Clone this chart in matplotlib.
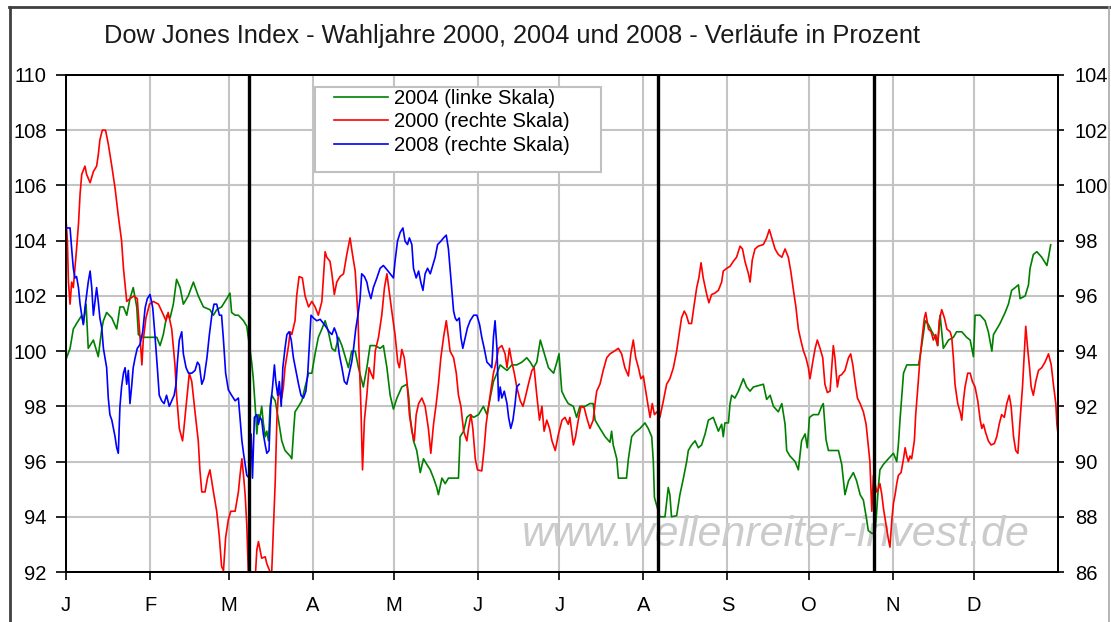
import numpy as np
import matplotlib
matplotlib.use('Agg')
import matplotlib.pyplot as plt
from matplotlib.lines import Line2D
from matplotlib.patches import Rectangle

plt.rcParams['font.family'] = ['Liberation Sans', 'DejaVu Sans']

# month starts (day of year, leap years) and labels
month_days = [0, 31, 60, 91, 121, 152, 182, 213, 244, 274, 305, 335]
month_labels = ['J', 'F', 'M', 'A', 'M', 'J', 'J', 'A', 'S', 'O', 'N', 'D']
election_days = [67.5, 218.5, 298.2]

# 2004, left scale  (day of year, percent)
dj2004 = np.array([
    (0, 99.7), (1.5, 100.1), (2.7, 100.8), (3.9, 101.0), (5.2, 101.2), (5.8, 101.3), (6.4, 101.0),
    (7.4, 101.7), (8.2, 100.1), (10.1, 100.4), (11.3, 100.0), (11.9, 99.8), (13.2, 100.8), (13.8, 101.1),
    (15.0, 101.4), (16.9, 101.2), (18.7, 100.8), (19.9, 101.6), (21.2, 101.6), (22.4, 101.3), (23.6, 101.9),
    (24.8, 102.3), (26.1, 101.6), (26.7, 100.6), (27.9, 100.5), (29.8, 100.5), (31.6, 100.5), (33.5, 100.5),
    (34.7, 100.2), (35.9, 100.6), (37.2, 101.3), (38.4, 101.2), (39.6, 101.7), (40.8, 102.6), (42.1, 102.3),
    (43.3, 101.7), (45.1, 102.0), (47.0, 102.5), (48.8, 102.0), (50.7, 101.6), (53.1, 101.5), (54.4, 101.3),
    (55.6, 101.5), (57.4, 101.6), (59.3, 101.9), (60.5, 102.1), (61.1, 101.4), (62.4, 101.3), (63.6, 101.3),
    (65.5, 101.1), (66.7, 100.9), (68.5, 99.6), (69.1, 99.0), (69.8, 98.0), (70.4, 97.0), (71.0, 97.7),
    (71.6, 97.6), (72.2, 98.0), (72.8, 97.4), (73.5, 96.9), (74.1, 97.1), (74.7, 96.75), (75.3, 98.0),
    (75.9, 98.4), (77.2, 98.2), (78.4, 97.5), (79.6, 96.75), (80.8, 96.4), (82.7, 96.2), (83.3, 96.1),
    (83.9, 97.0), (84.5, 97.8), (85.8, 98.0), (87.0, 98.2), (88.2, 98.7), (89.5, 99.2), (90.7, 99.2),
    (91.9, 99.9), (93.1, 100.5), (94.4, 100.8), (95.6, 101.1), (96.8, 100.7), (98.1, 100.1), (99.3, 100.0),
    (100.5, 100.5), (101.8, 100.2), (103.0, 99.8), (104.2, 99.4), (105.4, 100.0), (106.7, 100.0),
    (107.9, 99.4), (109.7, 98.7), (111.0, 99.4), (112.2, 100.2), (114.0, 100.2), (115.9, 100.1),
    (117.1, 100.2), (118.4, 99.4), (119.6, 98.4), (120.8, 97.9), (122.1, 98.3), (123.9, 98.7),
    (125.8, 98.8), (126.4, 98.4), (127.0, 97.6), (128.2, 96.75), (129.4, 96.4), (130.7, 95.6),
    (131.9, 96.1), (133.1, 95.9), (134.4, 95.7), (135.6, 95.4), (136.8, 95.06), (137.4, 94.8),
    (138.7, 95.4), (139.9, 95.2), (141.1, 95.4), (143.0, 95.4), (144.8, 95.4), (145.4, 96.9),
    (146.7, 97.1), (147.9, 97.6), (149.1, 97.7), (150.4, 97.6), (152.2, 97.7), (154.0, 98.0),
    (155.3, 97.7), (156.5, 98.3), (157.7, 98.9), (159.0, 99.2), (160.2, 99.5), (161.4, 99.4),
    (162.7, 99.3), (164.5, 99.5), (166.3, 99.5), (168.2, 99.6), (170.0, 99.76), (171.3, 99.6),
    (172.5, 99.4), (173.7, 99.6), (175.0, 100.4), (176.2, 100.0), (178.0, 99.4), (179.9, 99.2),
    (181.1, 99.6), (181.9, 99.9), (182.9, 98.55), (184.1, 98.3), (185.3, 98.1), (187.2, 98.0),
    (188.4, 97.6), (189.6, 98.0), (191.5, 98.0), (193.3, 98.1), (194.5, 98.1), (195.2, 97.5),
    (197.0, 97.2), (198.9, 96.9), (200.7, 96.7), (201.3, 97.1), (201.9, 96.6), (203.2, 96.1),
    (203.8, 95.4), (205.0, 95.4), (206.8, 95.4), (207.5, 96.1), (208.7, 96.9), (209.9, 97.05),
    (211.8, 97.2), (213.6, 97.4), (214.8, 97.2), (216.1, 96.9), (216.7, 96.0), (217.1, 94.7),
    (219.1, 94.0), (221.0, 94.0), (222.2, 95.06), (222.8, 94.8), (223.4, 94.0), (225.3, 94.04),
    (226.5, 94.8), (227.8, 95.4), (229.0, 96.0), (229.6, 96.4), (230.8, 96.6), (232.1, 96.75),
    (233.3, 96.5), (234.5, 96.6), (235.8, 97.0), (237.0, 97.5), (238.8, 97.6), (240.7, 97.1),
    (241.9, 97.35), (242.5, 96.9), (243.1, 97.4), (244.4, 97.4), (245.0, 98.1), (245.6, 98.4),
    (246.8, 98.3), (248.1, 98.55), (249.9, 99.0), (251.1, 98.7), (252.4, 98.55), (253.6, 98.7),
    (257.3, 98.8), (258.5, 98.25), (259.8, 98.4), (261.0, 98.0), (262.8, 97.8), (264.1, 98.1),
    (265.3, 97.35), (265.9, 96.4), (267.1, 96.2), (269.0, 96.0), (270.2, 95.7), (271.4, 96.75),
    (272.7, 97.0), (273.5, 96.5), (274.3, 97.6), (275.7, 97.7), (277.6, 97.7), (278.8, 98.0),
    (279.4, 98.1), (280.4, 96.8), (281.3, 96.4), (283.1, 96.4), (285.0, 96.4), (286.2, 95.9),
    (287.4, 94.8), (288.7, 95.3), (290.5, 95.6), (291.7, 95.3), (293.0, 94.8), (294.2, 94.6),
    (295.4, 93.9), (296.0, 93.5), (297.3, 93.4), (298.5, 93.4), (299.1, 94.2), (299.7, 95.06),
    (300.3, 95.7), (301.6, 95.9), (303.4, 96.1), (305.3, 96.3), (306.5, 96.0), (307.1, 96.6),
    (307.7, 97.5), (308.3, 98.3), (309.0, 99.2), (310.2, 99.5), (314.5, 99.5), (315.1, 99.8),
    (316.3, 100.6), (317.0, 101.1), (318.2, 100.96), (319.5, 100.7), (320.7, 100.5), (321.6, 100.2),
    (322.5, 101.3), (323.7, 100.1), (325.6, 100.4), (327.4, 100.5), (328.6, 100.7), (330.5, 100.7),
    (332.3, 100.5), (333.6, 100.4), (334.8, 99.8), (335.4, 101.3), (337.3, 101.3), (339.1, 101.1),
    (340.3, 100.7), (341.6, 100.0), (342.2, 100.6), (343.4, 100.8), (344.6, 101.0), (346.5, 101.4),
    (347.7, 101.7), (348.9, 102.2), (350.2, 102.3), (351.4, 102.4), (352.0, 101.9), (353.9, 102.0),
    (355.1, 102.4), (355.7, 103.0), (356.9, 103.5), (358.2, 103.6), (360.0, 103.4), (361.9, 103.1),
    (362.5, 103.4), (363.3, 103.85),
])

# 2000, right scale
dj2000 = np.array([
    (0, 98.8), (0.5, 98.0), (0.9, 96.5), (1.5, 95.7), (2.1, 96.5), (2.7, 96.3), (3.3, 97.0), (3.9, 97.7),
    (4.6, 98.6), (5.2, 99.7), (5.8, 100.4), (7.0, 100.7), (7.6, 100.4), (8.9, 100.1), (10.1, 100.5),
    (11.3, 100.7), (11.9, 101.1), (12.5, 101.65), (13.4, 102.0), (14.6, 102.0), (15.6, 101.5),
    (16.9, 100.7), (18.1, 99.9), (19.3, 98.9), (20.5, 98.0), (21.2, 97.0), (22.4, 95.8), (23.6, 95.9),
    (25.1, 96.0), (26.3, 95.9), (27.1, 94.8), (27.6, 94.1), (28.0, 93.5), (28.5, 94.4), (29.5, 95.2),
    (30.8, 95.7), (32.2, 95.8), (34.1, 95.7), (35.3, 95.45), (36.9, 95.1), (37.7, 95.4), (39.0, 94.8),
    (40.2, 93.5), (40.8, 92.4), (41.8, 91.2), (43.0, 90.75), (43.5, 91.2), (44.5, 92.2), (45.5, 93.2),
    (46.4, 92.9), (47.6, 91.8), (48.8, 90.75), (49.4, 89.7), (50.1, 88.9), (51.3, 88.9), (52.2, 89.4),
    (53.1, 89.7), (54.4, 88.9), (55.6, 88.2), (56.6, 87.25), (57.4, 86.2), (58.1, 86.05), (58.9, 87.25),
    (59.9, 87.9), (60.8, 88.2), (62.4, 88.2), (63.6, 88.9), (64.2, 89.5), (64.9, 90.1), (65.5, 89.5),
    (66.1, 88.8), (66.7, 87.7), (67.6, 85.0), (69.5, 85.2), (70.4, 86.8), (71.0, 87.1), (71.6, 86.8),
    (72.2, 86.5), (73.5, 86.55), (74.1, 86.3), (75.3, 86.0), (75.9, 86.0), (76.5, 87.5), (77.2, 89.3),
    (77.8, 91.5), (78.4, 92.55), (79.6, 92.3), (80.2, 92.7), (80.8, 93.4), (82.1, 94.2), (82.7, 94.7),
    (83.3, 94.6), (84.5, 95.1), (85.1, 96.0), (86.0, 96.7), (87.2, 96.65), (88.2, 96.0), (89.5, 95.6),
    (90.7, 95.8), (91.9, 95.6), (93.1, 95.3), (94.4, 95.8), (95.6, 97.6), (96.2, 97.4), (97.4, 97.25),
    (98.1, 96.8), (99.0, 96.05), (99.9, 96.5), (101.1, 96.7), (102.4, 96.8), (103.6, 97.5), (104.8, 98.1),
    (105.7, 97.5), (106.7, 96.9), (107.7, 95.3), (108.1, 94.0), (108.8, 92.0), (109.4, 89.7), (110.1, 91.5),
    (111.0, 92.4), (111.8, 93.4), (112.5, 93.2), (113.4, 93.0), (114.1, 94.0), (115.3, 94.5), (116.5, 95.3),
    (117.5, 96.3), (118.4, 96.8), (119.2, 96.2), (120.2, 95.45), (121.4, 94.6), (122.4, 93.6), (123.0, 93.4),
    (123.9, 94.06), (124.8, 93.76), (125.8, 92.9), (126.7, 91.7), (127.6, 91.1), (128.5, 90.75),
    (129.2, 91.7), (130.1, 92.1), (131.3, 92.3), (132.5, 92.0), (133.7, 91.2), (134.6, 90.3), (135.6, 91.35),
    (136.6, 92.1), (137.4, 92.8), (138.3, 93.76), (139.3, 94.5), (140.3, 95.1), (141.1, 94.5), (141.7, 94.0),
    (143.0, 93.76), (144.0, 93.2), (144.8, 92.4), (145.7, 92.0), (146.7, 91.1), (147.9, 90.75), (148.5, 91.2),
    (149.4, 91.7), (150.1, 91.2), (151.0, 90.1), (151.8, 89.7), (153.4, 89.66), (154.3, 90.5), (155.0, 91.35),
    (155.9, 92.0), (156.7, 92.55), (157.7, 93.2), (158.7, 93.6), (159.6, 94.1), (160.8, 94.2), (162.0, 93.9),
    (162.7, 93.4), (163.6, 94.1), (164.5, 93.6), (165.4, 93.2), (166.3, 92.7), (167.6, 92.2), (168.6, 92.0),
    (169.4, 92.3), (170.6, 92.8), (171.9, 93.3), (172.7, 93.4), (173.7, 92.4), (174.7, 91.5), (175.6, 92.0),
    (176.4, 91.1), (177.4, 91.5), (178.4, 91.2), (179.3, 90.75), (180.5, 90.4), (181.7, 91.0), (183.0, 91.5),
    (184.1, 91.6), (185.3, 91.35), (185.9, 91.6), (187.2, 90.6), (188.0, 90.9), (189.0, 91.5), (190.0, 92.0),
    (191.2, 91.95), (192.1, 91.6), (193.3, 91.2), (194.5, 91.5), (195.2, 92.1), (195.8, 92.55), (197.0, 92.8),
    (198.2, 93.3), (199.5, 93.76), (200.7, 93.9), (202.3, 94.0), (203.8, 94.1), (205.0, 93.9), (206.2, 93.4),
    (207.5, 93.1), (208.4, 93.9), (209.3, 94.4), (210.2, 93.76), (211.2, 93.4), (212.1, 93.0), (213.0, 93.1),
    (213.9, 92.55), (214.8, 92.0), (215.5, 91.6), (216.3, 92.1), (217.1, 91.7), (218.0, 91.8), (219.1, 91.6),
    (220.4, 92.2), (221.6, 92.8), (222.8, 93.0), (224.1, 93.4), (225.3, 94.0), (226.2, 94.6), (227.1, 95.2),
    (228.1, 95.45), (228.9, 95.3), (229.8, 95.0), (230.8, 95.0), (231.8, 95.7), (232.7, 96.3), (233.5, 96.65),
    (234.3, 97.2), (235.1, 96.65), (236.4, 96.05), (237.2, 95.75), (238.2, 96.05), (239.4, 96.1),
    (240.7, 96.2), (241.9, 96.5), (242.5, 96.9), (243.8, 97.0), (245.0, 97.07), (246.2, 97.25), (247.4, 97.4),
    (248.7, 97.8), (249.6, 97.7), (250.5, 97.25), (251.8, 96.8), (252.4, 96.5), (253.2, 97.3), (254.2, 97.7),
    (255.4, 97.8), (257.3, 97.86), (258.5, 98.1), (259.5, 98.4), (260.4, 98.1), (261.6, 97.7), (262.8, 97.5),
    (264.1, 97.4), (265.3, 97.7), (266.5, 97.4), (267.4, 96.9), (268.4, 96.2), (269.3, 95.6), (270.2, 94.8),
    (271.1, 94.4), (272.1, 94.0), (273.0, 93.76), (273.9, 93.4), (274.5, 93.0), (275.5, 93.6), (276.4, 94.1),
    (277.2, 94.4), (278.2, 94.1), (279.2, 93.76), (280.0, 92.8), (280.9, 92.5), (281.9, 92.55), (282.5, 93.4),
    (283.1, 94.2), (283.7, 93.76), (284.6, 92.7), (285.3, 93.1), (286.2, 93.15), (287.4, 93.3), (288.7, 93.76),
    (289.5, 93.9), (290.3, 93.5), (291.1, 92.9), (292.0, 92.3), (293.0, 92.1), (294.2, 91.8), (295.2, 91.35),
    (296.0, 90.6), (296.6, 90.0), (297.3, 88.2), (297.9, 89.5), (299.1, 88.9), (299.7, 89.0), (300.3, 89.2),
    (301.0, 88.8), (301.6, 88.3), (302.4, 87.8), (303.4, 87.2), (304.0, 86.9), (304.7, 87.9), (305.3, 88.5),
    (305.9, 88.8), (306.5, 89.2), (307.1, 89.5), (308.1, 89.6), (309.0, 90.1), (309.6, 90.5), (310.2, 90.2),
    (310.8, 90.0), (311.4, 90.2), (312.0, 90.1), (313.0, 90.75), (313.5, 91.7), (314.3, 92.7), (315.1, 93.76),
    (316.0, 94.6), (316.7, 95.2), (317.2, 95.4), (318.2, 94.8), (319.2, 94.7), (320.0, 94.4), (320.9, 94.6),
    (321.6, 94.2), (322.2, 95.1), (323.1, 95.5), (324.1, 95.2), (325.0, 94.8), (326.2, 94.7), (326.8, 94.5),
    (327.4, 93.76), (328.0, 92.8), (329.0, 92.1), (329.9, 91.8), (330.5, 91.5), (331.1, 92.2), (331.7, 92.7),
    (332.7, 93.2), (333.6, 93.2), (334.4, 92.9), (335.4, 92.7), (336.4, 92.2), (337.3, 91.5), (337.9, 91.2),
    (338.5, 91.35), (339.3, 91.05), (340.3, 90.75), (341.3, 90.6), (342.5, 90.65), (343.4, 90.9),
    (344.3, 91.35), (345.2, 91.7), (346.2, 91.6), (347.1, 92.1), (348.0, 92.4), (348.7, 92.0), (349.6, 90.9),
    (350.4, 90.4), (351.2, 90.3), (352.0, 91.5), (352.9, 92.7), (353.6, 94.0), (354.1, 94.9), (354.8, 94.1),
    (355.5, 93.4), (356.1, 92.7), (356.9, 92.4), (357.8, 92.9), (358.8, 93.3), (360.0, 93.4), (361.2, 93.6),
    (362.5, 93.9), (363.5, 93.5), (364.3, 92.8), (365.2, 92.1), (365.6, 91.35), (366.0, 91.0),
])

# 2008, right scale
dj2008 = np.array([
    (0, 98.46), (1.5, 98.46), (2.1, 97.7), (2.7, 97.0), (3.3, 96.65), (3.9, 96.7), (4.6, 96.3), (5.2, 95.7),
    (5.8, 95.3), (6.4, 94.96), (7.0, 95.57), (7.6, 96.05), (8.2, 96.5), (8.9, 96.9), (9.5, 96.3), (10.1, 95.3),
    (10.7, 95.8), (11.3, 96.3), (11.9, 95.8), (12.5, 95.2), (13.2, 94.84), (13.8, 94.1), (15.0, 93.4),
    (15.6, 92.3), (16.2, 91.7), (16.9, 91.5), (17.5, 91.2), (18.1, 90.9), (18.7, 90.5), (19.3, 90.3),
    (19.9, 92.0), (20.5, 92.7), (21.2, 93.2), (21.8, 93.4), (22.4, 92.8), (23.0, 93.3), (23.6, 92.1),
    (24.2, 92.7), (24.8, 93.4), (25.5, 93.76), (26.3, 94.1), (27.3, 94.24), (28.3, 94.7), (29.2, 95.57),
    (30.0, 95.9), (31.0, 96.05), (32.0, 95.57), (32.8, 94.6), (33.7, 93.4), (34.4, 92.4), (35.3, 92.2),
    (36.2, 92.1), (37.1, 92.4), (38.1, 92.0), (39.0, 92.2), (39.9, 92.4), (40.6, 92.8), (41.1, 93.6),
    (41.8, 94.4), (42.7, 94.7), (43.3, 93.9), (44.3, 93.4), (45.2, 93.2), (46.4, 93.2), (47.6, 93.3),
    (48.5, 93.6), (49.2, 93.5), (50.1, 92.8), (50.9, 93.0), (52.0, 93.76), (52.9, 94.6), (53.8, 95.3),
    (54.6, 95.7), (55.6, 95.7), (56.6, 95.3), (57.4, 95.3), (58.1, 94.4), (58.9, 93.2), (59.9, 92.6),
    (61.1, 92.4), (62.4, 92.2), (63.6, 92.3), (64.2, 91.6), (64.9, 90.75), (65.5, 90.3), (66.1, 89.9),
    (66.7, 89.5), (67.6, 89.4), (68.3, 91.0), (68.8, 89.4), (69.5, 91.6), (70.4, 91.7), (71.0, 91.35),
    (71.6, 91.6), (72.2, 91.5), (72.8, 91.0), (73.5, 90.6), (74.1, 90.3), (74.9, 90.4), (75.5, 92.0),
    (76.2, 92.7), (76.9, 93.5), (77.4, 92.9), (78.1, 92.4), (78.7, 92.9), (79.4, 92.0), (80.0, 93.4),
    (80.8, 94.1), (81.5, 94.6), (82.3, 94.7), (83.1, 94.4), (83.9, 93.76), (84.8, 93.3), (85.8, 92.8),
    (86.7, 92.4), (87.6, 92.3), (88.5, 92.55), (89.2, 93.2), (89.7, 94.1), (90.4, 95.3), (91.3, 95.2),
    (92.5, 95.1), (93.8, 95.15), (95.0, 95.0), (96.2, 94.84), (97.1, 94.7), (98.1, 94.6), (99.0, 94.84),
    (99.9, 94.6), (100.8, 93.9), (101.8, 93.4), (102.7, 92.9), (103.6, 92.8), (104.5, 93.2), (105.4, 93.6),
    (106.1, 94.1), (106.9, 94.8), (107.7, 95.3), (108.5, 95.9), (109.1, 96.8), (110.1, 96.7), (111.0, 96.5),
    (111.6, 96.2), (112.5, 95.9), (113.4, 96.3), (114.7, 96.65), (115.9, 97.0), (117.1, 97.1), (118.4, 96.95),
    (119.6, 96.8), (120.8, 96.65), (121.4, 97.25), (122.3, 97.98), (123.3, 98.3), (124.3, 98.46),
    (125.1, 97.98), (126.0, 97.86), (126.7, 98.1), (127.6, 97.86), (128.2, 97.0), (129.2, 96.65),
    (130.1, 96.9), (130.9, 96.5), (131.7, 96.2), (132.5, 96.8), (133.4, 97.0), (134.4, 96.8), (135.3, 97.1),
    (136.2, 97.4), (137.1, 97.86), (138.3, 97.98), (139.3, 98.1), (140.3, 98.2), (141.1, 97.7), (141.7, 97.0),
    (142.4, 96.2), (143.0, 95.45), (143.6, 95.2), (144.2, 95.1), (145.1, 95.2), (145.7, 94.5), (146.4, 94.1),
    (147.3, 94.5), (148.1, 94.84), (149.1, 95.1), (150.4, 95.3), (151.6, 95.3), (152.6, 94.96), (153.4, 94.5),
    (154.3, 94.1), (155.3, 93.6), (156.3, 93.5), (157.1, 93.4), (157.7, 94.5), (158.3, 95.1), (159.0, 94.1),
    (159.6, 92.2), (160.2, 92.7), (160.8, 92.3), (161.7, 92.55), (162.7, 92.1), (163.3, 91.6), (164.1, 91.2),
    (164.9, 91.5), (165.7, 92.1), (166.3, 92.7), (167.2, 92.8),
])

fig = plt.figure(figsize=(11.11, 6.22), dpi=100)
ax = fig.add_axes([66 / 1111, 50 / 622, 992 / 1111, 497 / 622])
ax2 = ax.twinx()

ax.set_axisbelow(True)
ax.grid(True, color='#c4c4c4', linewidth=1.5)

ax.plot(dj2004[:, 0], dj2004[:, 1], color='#008000', lw=1.2, zorder=2)
ax2.plot(dj2000[:, 0], dj2000[:, 1], color='#ff0000', lw=1.2, zorder=2)
ax2.plot(dj2008[:, 0], dj2008[:, 1], color='#0000ff', lw=1.2, zorder=3)
for d in election_days:
    ax2.axvline(d, color='black', lw=2.4, zorder=5)

ax.set_xlim(0, 366)
ax.set_ylim(92, 110)
ax2.set_ylim(86, 104)
ax.set_xticks(month_days)
ax.set_xticklabels(month_labels)
ax.set_yticks(np.arange(92, 111, 2))
ax2.set_yticks(np.arange(86, 105, 2))

ax.tick_params(axis='x', direction='out', length=6, width=1.2, pad=11, labelsize=14.5)
ax.tick_params(axis='y', direction='out', length=7, width=1.2, pad=7, labelsize=14.5)
ax2.tick_params(axis='y', direction='out', length=4, width=1.2, pad=8, labelsize=14.5)
for a in (ax, ax2):
    for s in a.spines.values():
        s.set_color('black')
        s.set_linewidth(1.4)

# watermark
ax.text(776 / 1111, 1 - 535 / 622, 'www.wellenreiter-invest.de', transform=fig.transFigure,
        ha='center', va='center', fontsize=31, style='italic', color='#cbcbcb', zorder=1,
        clip_on=False)

fig.text(512 / 1111, 1 - 36 / 622, 'Dow Jones Index - Wahljahre 2000, 2004 und 2008 - Verläufe in Prozent',
         ha='center', va='center', fontsize=18.3, color='#1a1a1a')

# legend box
fig.add_artist(Rectangle((315 / 1111, 1 - 172 / 622), 286 / 1111, 85 / 622, transform=fig.transFigure,
                         facecolor='white', edgecolor='#c0c0c0', lw=1.5, zorder=5))
handles = [Line2D([], [], color='#008000', lw=1.2),
           Line2D([], [], color='#ff0000', lw=1.2),
           Line2D([], [], color='#0000ff', lw=1.2)]
leg = fig.legend(handles, ['2004 (linke Skala)', '2000 (rechte Skala)', '2008 (rechte Skala)'],
                 loc='upper left', bbox_to_anchor=(334 / 1111, 1 - 89 / 622), frameon=False,
                 borderpad=0, handlelength=2.7, handletextpad=0.3, labelspacing=0.22, fontsize=14.5,
                 borderaxespad=0)
leg.set_zorder(6)

# outer frame
fig.add_artist(Line2D([9.5 / 1111, 9.5 / 1111], [0, 1 - 7 / 622], color='#404040', lw=2))
fig.add_artist(Line2D([9 / 1111, 1109 / 1111], [1 - 7 / 622, 1 - 7 / 622], color='#404040', lw=2))
fig.add_artist(Line2D([1109 / 1111, 1109 / 1111], [0, 1 - 7 / 622], color='#a8a8a8', lw=1.2))

fig.savefig('out.png', dpi=100)
